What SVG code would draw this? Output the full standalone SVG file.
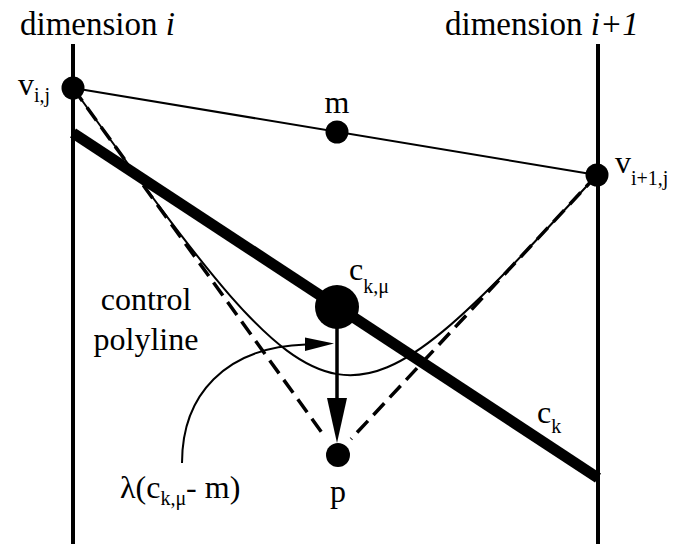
<svg xmlns="http://www.w3.org/2000/svg" width="673" height="544" viewBox="0 0 673 544">
<style>
.lbl{font-family:'Liberation Serif','Times New Roman',Times,serif;font-size:32px;fill:#000}
.hdr{font-size:33px}
.sub{font-size:20px}
.axis{stroke:#000;stroke-width:4;fill:none}
.thin{stroke:#000;stroke-width:2;fill:none}
.dash{stroke:#000;stroke-width:3.5;fill:none;stroke-dasharray:16 8}
.dot{fill:#000}
</style>
<rect width="673" height="544" fill="#fff"/>
<g id="axes">
<line class="axis" x1="73" y1="44" x2="73" y2="544"/>
<line class="axis" x1="598" y1="44" x2="598" y2="544"/>
<text class="lbl hdr" x="20" y="35">dimension <tspan font-style="italic">i</tspan></text>
<text class="lbl hdr" x="445" y="35">dimension <tspan font-style="italic">i+1</tspan></text>
</g>
<g id="connectors">
<line class="thin" x1="73" y1="88" x2="597" y2="175"/>
<line class="dash" x1="73" y1="88" x2="325" y2="437"/>
<line class="dash" x1="597" y1="175" x2="351" y2="439"/>
<path class="thin" d="M73,88 C338,455 338,455 597,175"/>
<line id="ck-line" x1="73" y1="133" x2="598" y2="478" stroke="#000" stroke-width="11"/>
<line x1="337" y1="307" x2="337" y2="400" stroke="#000" stroke-width="3.5"/>
<polygon points="327,398 347,398 337,443" fill="#000"/>
<path class="thin" d="M182,463 C182,395 225,347 306,344.5"/>
<polygon points="334,343.5 305,337.5 305,351" fill="#000"/>
</g>
<g id="v_ij">
<circle class="dot" cx="73" cy="88" r="11.5"/>
<text class="lbl" x="18" y="95">v<tspan class="sub" dy="7">i,j</tspan></text>
</g>
<g id="m">
<circle class="dot" cx="337" cy="132" r="11.5"/>
<text class="lbl" x="337" y="113" text-anchor="middle">m</text>
</g>
<g id="v_i1j">
<circle class="dot" cx="597" cy="175" r="11.5"/>
<text class="lbl" x="615" y="173">v<tspan class="sub" dy="12">i+1,j</tspan></text>
</g>
<g id="c_kmu">
<circle class="dot" cx="337" cy="307" r="22"/>
<text class="lbl" x="349" y="280">c<tspan class="sub" dy="13">k,μ</tspan></text>
</g>
<g id="p">
<circle class="dot" cx="338" cy="455" r="12"/>
<text class="lbl" x="338" y="502" text-anchor="middle">p</text>
</g>
<g id="c_k">
<text class="lbl" x="537" y="423">c<tspan class="sub" dy="10">k</tspan></text>
</g>
<g id="control-polyline">
<text class="lbl" x="146" y="310" text-anchor="middle">control</text>
<text class="lbl" x="146" y="350" text-anchor="middle">polyline</text>
</g>
<g id="lambda">
<text class="lbl" x="120" y="498">λ(c<tspan class="sub" dy="7">k,μ</tspan><tspan dy="-7">- m)</tspan></text>
</g>
</svg>
